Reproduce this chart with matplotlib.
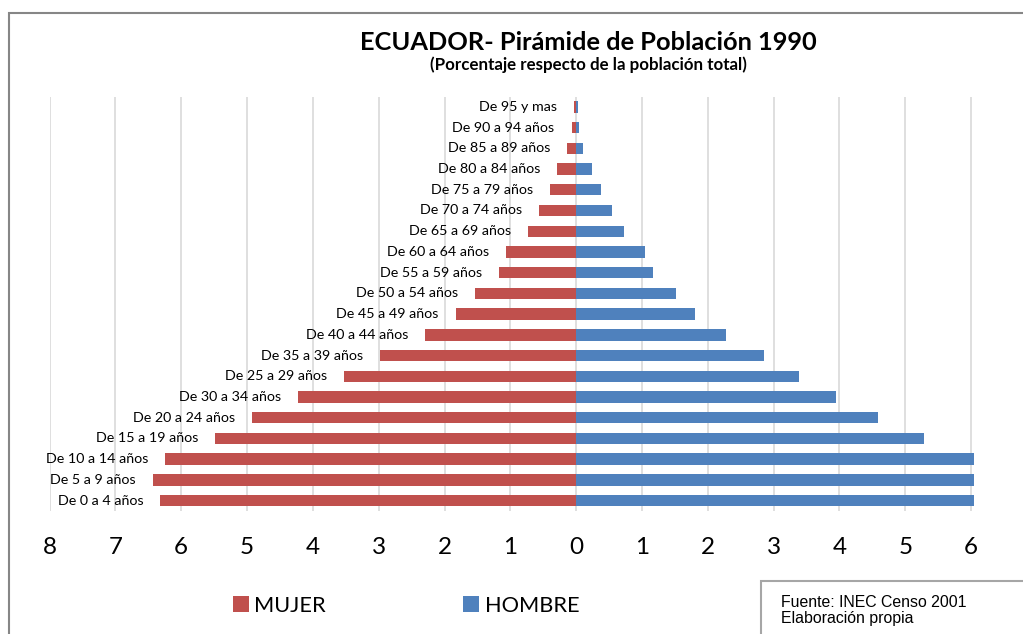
import matplotlib
matplotlib.use("Agg")
import matplotlib.pyplot as plt
from matplotlib.patches import Rectangle

# Data (bottom to top, as displayed)
grupos = ["De 0 a 4 años", "De 5 a 9 años", "De 10 a 14 años", "De 15 a 19 años",
          "De 20 a 24 años", "De 30 a 34 años", "De 25 a 29 años", "De 35 a 39 años",
          "De 40 a 44 años", "De 45 a 49 años", "De 50 a 54 años", "De 55 a 59 años",
          "De 60 a 64 años", "De 65 a 69 años", "De 70 a 74 años", "De 75 a 79 años",
          "De 80 a 84 años", "De 85 a 89 años", "De 90 a 94 años", "De 95 y mas"]
mujer = [6.32, 6.43, 6.24, 5.48, 4.92, 4.22, 3.52, 2.98, 2.29, 1.83,
         1.53, 1.17, 1.06, 0.73, 0.57, 0.40, 0.29, 0.14, 0.07, 0.03]
hombre = [6.45, 6.55, 6.35, 5.28, 4.58, 3.95, 3.38, 2.85, 2.28, 1.81,
          1.52, 1.17, 1.04, 0.72, 0.55, 0.38, 0.24, 0.11, 0.05, 0.03]
xticks = [-8, -7, -6, -5, -4, -3, -2, -1, 0, 1, 2, 3, 4, 5, 6]
xtick_labels = ["8", "7", "6", "5", "4", "3", "2", "1", "0", "1", "2", "3", "4", "5", "6"]

titulo = "ECUADOR- Pirámide de Población 1990"
subtitulo = "(Porcentaje respecto de la población total)"
fuente = "Fuente: INEC Censo 2001\nElaboración propia"

RED = "#C0504D"
BLUE = "#4F81BD"

W, H = 1023, 634
fig = plt.figure(figsize=(W / 100, H / 100), dpi=100)
fig.patch.set_facecolor("white")

def px(x0, y0, x1, y1):
    return [x0 / W, 1 - y1 / H, (x1 - x0) / W, (y1 - y0) / H]

ax = fig.add_axes(px(49.6, 96.5, 973.7, 511))
y = list(range(len(grupos)))
neg_mujer = [-v for v in mujer]
b1 = ax.barh(y, neg_mujer, height=0.55, color=RED, label="MUJER", zorder=3)
b2 = ax.barh(y, hombre, height=0.55, color=BLUE, label="HOMBRE", zorder=3)

ax.set_xlim(-8, 6.04)
ax.set_ylim(-0.5, len(grupos) - 0.5)
ax.set_xticks(xticks)
ax.set_xticklabels(xtick_labels, fontsize=17.5, family="Lato")
ax.tick_params(axis="x", length=0, pad=19)
ax.set_yticks([])
for s in ax.spines.values():
    s.set_visible(False)
ax.grid(axis="x", color="#d9d9d9", lw=1.2, zorder=0)
ax.set_axisbelow(True)

for yi, v, lab in zip(y, neg_mujer, grupos):
    ax.annotate(lab, (v, yi), xytext=(-12.2, 0), textcoords="offset points",
                ha="right", va="center", fontsize=10.3, family="Lato", color="#000000")

fig.text(588 / W, 1 - 42.7 / H, titulo, ha="center", va="center",
         fontsize=18.3, fontweight="bold", family="Lato")
fig.text(588 / W, 1 - 64.5 / H, subtitulo, ha="center", va="center",
         fontsize=12.2, fontweight="bold", family="Lato")

leg = fig.legend(handles=[b1, b2], labels=["MUJER", "HOMBRE"], loc="center",
                 bbox_to_anchor=(406 / W, 1 - 605.7 / H), ncol=2, frameon=False,
                 prop={"family": "Lato", "size": 15.7}, handlelength=0.73,
                 handleheight=0.73, handletextpad=0.25, columnspacing=6.3)

# outer chart border
fig.patches.append(Rectangle((9 / W, -0.1), 1.2, 1 - 13 / H + 0.1, transform=fig.transFigure,
                             fill=False, edgecolor="#868686", lw=1.5, zorder=10))
# source box
fig.patches.append(Rectangle((761 / W, -0.1), 0.5, 1 - 581 / H + 0.1, transform=fig.transFigure,
                             fill=False, edgecolor="#a6a6a6", lw=1.5, zorder=10))
fig.text(781 / W, 1 - 610.5 / H, fuente, ha="left", va="center", fontsize=11.4,
         family="Liberation Sans", linespacing=1.05)

fig.savefig("out.png", dpi=100, facecolor="white")
